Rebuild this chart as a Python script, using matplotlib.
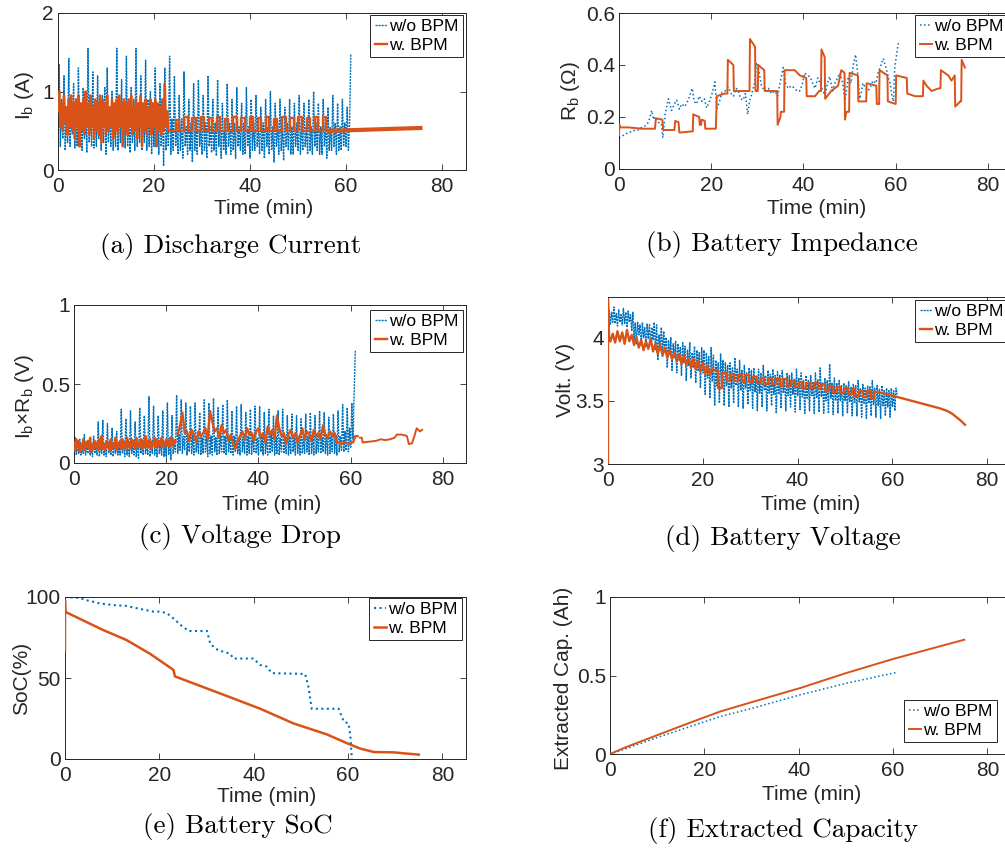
import numpy as np
import matplotlib
matplotlib.use('Agg')
import matplotlib.pyplot as plt
from matplotlib.ticker import FuncFormatter

# ---- colours (MATLAB defaults) ----
BLUE = '#0072BD'
ORANGE = '#D95319'
AXC = '#262626'


def nums(s):
    return [float(v) for v in s.split()]


# ---- (a) discharge current, w/o BPM read every 0.25 min (0..61) ----
ib_wo = nums("""
0.00 1.35 0.30 0.90 0.40 1.20 0.25 0.75  0.35 1.42 0.30 0.85 0.45 1.10 0.28 0.80
0.30 1.30 0.35 0.70 0.25 1.05 0.40 0.90  0.22 1.55 0.35 0.85 0.30 1.25 0.28 0.80
0.30 1.20 0.40 0.75 0.25 0.95 0.35 1.05  0.20 1.30 0.35 0.80 0.30 1.00 0.25 0.85
0.30 1.55 0.25 0.90 0.35 1.15 0.32 0.80  0.28 1.45 0.30 0.75 0.22 1.05 0.35 0.90
0.25 1.55 0.30 0.85 0.35 1.20 0.25 0.80  0.35 1.40 0.25 0.90 0.30 1.00 0.20 0.85
0.30 1.30 0.35 0.75 0.20 1.10 0.30 0.80  0.05 1.30 0.25 0.70 0.30 1.45 0.20 0.65
0.25 1.20 0.30 0.60 0.20 0.95 0.25 0.65  0.15 1.25 0.30 0.55 0.20 0.90 0.25 0.60
0.10 1.10 0.25 0.65 0.20 1.15 0.30 0.55  0.20 0.95 0.25 0.60 0.15 1.20 0.30 0.55
0.22 0.90 0.25 0.60 0.18 1.15 0.30 0.65  0.15 0.85 0.25 0.55 0.20 1.10 0.30 0.60
0.20 0.90 0.25 0.60 0.15 1.05 0.30 0.55  0.25 0.85 0.20 0.60 0.20 1.05 0.30 0.55
0.15 0.90 0.25 0.60 0.25 0.95 0.30 0.55  0.20 0.80 0.25 0.60 0.15 0.90 0.30 0.55
0.20 1.00 0.25 0.55 0.10 0.85 0.30 0.60  0.20 0.90 0.25 0.55 0.12 0.80 0.30 0.60
0.25 0.90 0.20 0.55 0.20 0.85 0.30 0.60  0.25 0.95 0.20 0.60 0.25 0.85 0.30 0.55
0.20 0.90 0.25 0.55 0.20 1.00 0.30 0.60  0.25 0.85 0.20 0.55 0.20 0.90 0.30 0.60
0.15 0.80 0.25 0.55 0.25 0.95 0.30 0.60  0.20 0.85 0.25 0.55 0.25 0.90 0.30 0.60
0.30 0.80 0.25 0.60 1.47
""")
# w. BPM: noisy part every 0.25 min (0..23), then switching pulses, then flat
ib_w_noisy = nums("""
0.75 1.00 0.55 0.85 0.50 0.95 0.60 0.80  0.45 0.90 0.55 0.95 0.50 0.85 0.40 0.90
0.55 0.95 0.30 0.85 0.50 0.90 0.45 1.00  0.55 0.85 0.45 0.95 0.55 0.80 0.40 0.90
0.50 0.85 0.45 0.95 0.35 0.90 0.55 0.85  0.45 0.95 0.50 0.80 0.55 0.90 0.40 0.85
0.50 0.90 0.45 0.95 0.55 0.85 0.30 0.90  0.50 0.85 0.45 0.90 0.55 0.95 0.45 0.80
0.50 0.90 0.40 0.85 0.55 0.95 0.30 0.85  0.50 0.90 0.45 0.80 0.55 0.90 0.45 0.85
0.55 0.90 0.30 0.85 0.50 0.80 0.45 0.90  0.50 1.10 0.55 0.75 0.50
""")
ib_w_sq_t = [23.0, 24.6, 25.3, 26.3, 27.0, 28.0, 28.7, 29.7, 30.4, 31.4,
             32.1, 33.1, 33.8, 34.8, 35.5, 36.5, 37.2, 38.2, 38.9, 39.9,
             40.6, 41.6, 42.3, 43.3, 44.0, 45.0, 45.7, 46.7, 47.4, 48.4,
             49.1, 50.1, 50.8, 51.8, 52.5, 53.5, 54.2, 55.2, 55.9, 56.5]
ib_w_sq_v = [0.50, 0.64, 0.50, 0.67, 0.50, 0.66, 0.50, 0.68, 0.50, 0.66,
             0.50, 0.67, 0.50, 0.65, 0.50, 0.67, 0.50, 0.66, 0.50, 0.68,
             0.50, 0.66, 0.50, 0.67, 0.50, 0.65, 0.50, 0.68, 0.50, 0.66,
             0.50, 0.67, 0.50, 0.66, 0.50, 0.68, 0.50, 0.67, 0.50, 0.50]
ib_w_tail_t = [56.5, 60.0, 65.0, 70.0, 75.5]
ib_w_tail_v = [0.50, 0.505, 0.515, 0.525, 0.535]

# ---- (b) battery impedance ----
rb_wo_t = [0.0, 1.0, 2.0, 3.0, 3.5, 4.2, 4.9, 5.6, 6.4, 7.1,
           7.5, 7.8, 8.5, 9.2, 9.5, 10.0, 10.7, 11.4, 12.0, 12.5,
           13.1, 13.6, 14.3, 15.0, 15.9, 16.3, 16.8, 17.4, 18.0, 18.5,
           19.0, 19.6, 20.1, 20.8, 21.2, 21.8, 22.3, 23.0, 23.7, 24.3,
           24.8, 25.4, 25.9, 26.4, 26.9, 27.4, 27.9, 28.3, 28.8, 29.4,
           29.8, 30.4, 30.9, 31.6, 32.4, 33.1, 33.8, 34.4, 34.9, 35.6,
           36.1, 36.7, 37.4, 38.1, 38.6, 39.2, 39.8, 40.3, 40.8, 41.4,
           42.0, 42.5, 43.1, 43.6, 44.2, 44.7, 45.2, 45.7, 46.3, 46.8,
           47.4, 47.9, 48.5, 49.0, 49.4, 49.7, 50.3, 50.8, 51.3, 51.8,
           52.2, 52.6, 52.9, 53.5, 54.0, 54.6, 55.1, 55.7, 56.2, 56.8,
           57.3, 57.7, 58.0, 58.4, 58.8, 59.2, 59.5, 59.8, 60.2, 60.5,
           61.0]
rb_wo_v = [0.12, 0.13, 0.14, 0.145, 0.15, 0.15, 0.16, 0.165, 0.18, 0.225,
           0.19, 0.20, 0.18, 0.175, 0.12, 0.21, 0.27, 0.225, 0.25, 0.265,
           0.23, 0.25, 0.24, 0.265, 0.31, 0.26, 0.25, 0.28, 0.26, 0.27,
           0.235, 0.26, 0.285, 0.335, 0.23, 0.26, 0.295, 0.30, 0.315, 0.29,
           0.28, 0.31, 0.30, 0.27, 0.265, 0.29, 0.21, 0.26, 0.29, 0.33,
           0.41, 0.37, 0.32, 0.30, 0.31, 0.29, 0.30, 0.28, 0.33, 0.39,
           0.33, 0.31, 0.32, 0.31, 0.30, 0.30, 0.33, 0.37, 0.36, 0.355,
           0.33, 0.31, 0.35, 0.33, 0.30, 0.285, 0.33, 0.355, 0.30, 0.33,
           0.35, 0.37, 0.33, 0.265, 0.31, 0.355, 0.33, 0.40, 0.44, 0.36,
           0.27, 0.30, 0.33, 0.31, 0.30, 0.32, 0.34, 0.33, 0.37, 0.40,
           0.425, 0.40, 0.385, 0.35, 0.33, 0.28, 0.26, 0.39, 0.44, 0.48,
           0.49]
rb_w_t = [0.0, 0.1, 0.3, 2.0, 5.0, 7.8, 8.0, 9.4, 9.6, 12.0,
          12.2, 12.9, 13.1, 16.0, 16.1, 17.4, 17.5, 17.8, 17.9, 18.6,
          18.7, 21.0, 21.2, 22.9, 23.5, 23.6, 24.8, 24.9, 28.3, 28.4,
          29.5, 29.6, 30.1, 30.2, 31.5, 31.6, 34.3, 34.4, 35.0, 35.1,
          35.8, 35.9, 38.1, 39.2, 40.6, 40.7, 42.5, 43.4, 43.8, 43.9,
          44.6, 44.7, 46.0, 47.5, 48.2, 48.9, 49.0, 49.3, 49.9, 50.0,
          51.8, 51.9, 53.6, 53.7, 55.8, 55.9, 56.4, 56.5, 58.2, 58.3,
          60.0, 60.1, 62.4, 62.5, 64.2, 65.9, 66.0, 66.7, 67.8, 69.3,
          69.7, 69.8, 71.4, 72.1, 72.8, 72.9, 74.0, 74.2, 74.3, 75.0]
rb_w_v = [0.13, 0.17, 0.16, 0.16, 0.155, 0.155, 0.195, 0.19, 0.15, 0.15,
          0.185, 0.18, 0.14, 0.145, 0.21, 0.20, 0.17, 0.17, 0.19, 0.185,
          0.155, 0.155, 0.28, 0.29, 0.29, 0.42, 0.40, 0.30, 0.30, 0.50,
          0.47, 0.30, 0.30, 0.40, 0.38, 0.30, 0.30, 0.17, 0.20, 0.22,
          0.22, 0.38, 0.38, 0.36, 0.35, 0.28, 0.28, 0.30, 0.30, 0.46,
          0.43, 0.27, 0.30, 0.32, 0.38, 0.37, 0.19, 0.22, 0.22, 0.37,
          0.36, 0.26, 0.26, 0.33, 0.32, 0.25, 0.25, 0.38, 0.36, 0.26,
          0.25, 0.36, 0.35, 0.29, 0.28, 0.28, 0.34, 0.32, 0.30, 0.31,
          0.31, 0.38, 0.36, 0.34, 0.36, 0.24, 0.26, 0.26, 0.42, 0.39]

# ---- (c) voltage drop, w/o BPM every 0.25 min ----
vd_wo = nums("""
0.10 0.16 0.05 0.12 0.06 0.15 0.05 0.10  0.06 0.18 0.05 0.11 0.06 0.14 0.05 0.12
0.04 0.17 0.06 0.12 0.05 0.26 0.04 0.13  0.06 0.27 0.05 0.12 0.04 0.25 0.06 0.14
0.05 0.22 0.04 0.13 0.06 0.20 0.05 0.12  0.05 0.34 0.06 0.14 0.04 0.28 0.05 0.15
0.04 0.33 0.06 0.13 0.05 0.26 0.04 0.14  0.03 0.35 0.06 0.15 0.05 0.30 0.06 0.13
0.05 0.42 0.04 0.14 0.06 0.36 0.05 0.15  0.04 0.30 0.06 0.13 0.05 0.33 0.04 0.14
0.04 0.38 0.05 0.16 0.02 0.30 0.06 0.14  0.07 0.43 0.06 0.18 0.08 0.40 0.06 0.17
0.08 0.38 0.05 0.16 0.07 0.36 0.06 0.18  0.05 0.38 0.07 0.17 0.06 0.32 0.05 0.16
0.06 0.40 0.07 0.18 0.04 0.38 0.06 0.17  0.05 0.41 0.07 0.16 0.05 0.35 0.06 0.18
0.07 0.37 0.06 0.17 0.05 0.40 0.07 0.16  0.06 0.33 0.05 0.17 0.07 0.36 0.06 0.15
0.05 0.37 0.07 0.16 0.06 0.32 0.05 0.17  0.06 0.34 0.05 0.18 0.07 0.36 0.06 0.16
0.05 0.36 0.07 0.17 0.05 0.32 0.06 0.16  0.05 0.34 0.06 0.18 0.07 0.30 0.05 0.17
0.06 0.33 0.05 0.16 0.07 0.34 0.06 0.17  0.06 0.30 0.05 0.17 0.06 0.31 0.07 0.16
0.05 0.30 0.06 0.17 0.05 0.28 0.06 0.16  0.06 0.31 0.07 0.17 0.05 0.32 0.06 0.18
0.05 0.30 0.06 0.17 0.07 0.33 0.06 0.16  0.07 0.32 0.06 0.18 0.05 0.29 0.06 0.17
0.07 0.31 0.06 0.18 0.05 0.33 0.07 0.17  0.08 0.37 0.07 0.20 0.08 0.35 0.07 0.22
0.10 0.38 0.15 0.45 0.71
""")
vd_w_early = nums("""
0.13 0.08 0.15 0.10 0.14 0.07 0.12 0.09  0.15 0.08 0.13 0.10 0.14 0.09 0.16 0.07
0.12 0.09 0.14 0.10 0.13 0.08 0.15 0.09  0.17 0.09 0.12 0.08 0.14 0.10 0.13 0.08
0.15 0.09 0.12 0.10 0.16 0.08 0.13 0.10  0.14 0.09 0.15 0.10 0.13 0.09 0.16 0.10
0.13 0.09 0.15 0.11 0.14 0.09 0.16 0.10  0.13 0.10 0.15 0.09 0.14 0.10 0.17 0.10
0.14 0.10 0.15 0.09 0.13 0.11 0.16 0.10  0.15 0.10 0.14 0.11 0.16 0.10 0.13 0.11
0.15 0.11 0.14 0.10 0.16 0.11 0.15 0.12  0.14
""")
vd_w_mid = [0.18, 0.24, 0.32, 0.19, 0.20, 0.14, 0.21, 0.18, 0.13, 0.20,
            0.17, 0.19, 0.22, 0.15, 0.33, 0.26, 0.20, 0.22, 0.16, 0.24,
            0.19, 0.21, 0.14, 0.18, 0.12, 0.09, 0.14, 0.17, 0.20, 0.15,
            0.22, 0.18, 0.19, 0.14, 0.20, 0.22, 0.16, 0.19, 0.13, 0.23,
            0.18, 0.21, 0.15, 0.30, 0.22, 0.17, 0.19, 0.12, 0.18, 0.21,
            0.16, 0.19, 0.13, 0.17, 0.22, 0.15, 0.20, 0.18, 0.14, 0.21,
            0.17, 0.19, 0.15, 0.24, 0.18, 0.16, 0.20, 0.17, 0.19, 0.13,
            0.13, 0.12, 0.13, 0.13, 0.12, 0.13, 0.13, 0.17, 0.17]
vd_w_tail_t = [62.0, 62.4, 62.6, 64.0, 65.5, 66.5, 67.5, 68.5, 69.5, 70.0,
               71.0, 71.8, 72.2, 72.6, 73.3, 73.8, 74.3, 75.0, 75.5]
vd_w_tail_v = [0.16, 0.16, 0.13, 0.135, 0.14, 0.15, 0.145, 0.15, 0.16, 0.18,
               0.18, 0.175, 0.17, 0.12, 0.125, 0.17, 0.22, 0.20, 0.21]

# ---- (d) battery voltage, w/o BPM every 0.25 min ----
v_wo = nums("""
4.15 4.22 4.10 4.20 4.12 4.24 4.11 4.19  4.09 4.22 4.12 4.18 4.10 4.23 4.11 4.20
4.08 4.21 4.12 4.18 4.05 4.20 3.98 4.12  3.95 4.12 4.02 4.10 3.94 4.12 4.00 4.08
3.93 4.11 3.99 4.10 3.95 4.08 3.98 4.12  3.90 4.10 3.82 4.02 3.92 4.08 3.85 4.05
3.88 4.00 3.76 3.98 3.86 4.00 3.74 3.95  3.84 3.97 3.72 3.95 3.82 3.92 3.70 3.96
3.80 3.93 3.66 3.90 3.78 3.96 3.68 3.88  3.76 3.93 3.64 3.90 3.74 3.88 3.60 3.92
3.72 3.90 3.55 3.88 3.68 3.85 3.52 3.92  3.65 3.86 3.46 3.82 3.62 3.80 3.48 3.87
3.64 3.82 3.46 3.80 3.62 3.78 3.45 3.80  3.60 3.76 3.48 3.84 3.62 3.75 3.45 3.82
3.58 3.74 3.44 3.78 3.60 3.72 3.47 3.76  3.58 3.74 3.44 3.76 3.57 3.70 3.42 3.75
3.56 3.72 3.45 3.78 3.58 3.70 3.42 3.74  3.56 3.71 3.46 3.75 3.55 3.70 3.40 3.73
3.55 3.70 3.44 3.74 3.56 3.68 3.42 3.72  3.54 3.70 3.45 3.72 3.55 3.67 3.41 3.75
3.54 3.68 3.43 3.72 3.53 3.66 3.40 3.70  3.52 3.66 3.42 3.70 3.54 3.65 3.40 3.72
3.52 3.67 3.41 3.76 3.53 3.64 3.40 3.68  3.50 3.66 3.40 3.79 3.52 3.64 3.39 3.68
3.50 3.64 3.40 3.66 3.50 3.62 3.38 3.64  3.50 3.62 3.40 3.65 3.49 3.61 3.38 3.63
3.48 3.62 3.38 3.66 3.49 3.60 3.37 3.63  3.48 3.60 3.36 3.62 3.48 3.61 3.38 3.66
3.47 3.60 3.37 3.62 3.46 3.59 3.36 3.62  3.46 3.58 3.38 3.60 3.45 3.58 3.37 3.60
3.45 3.58 3.42 3.60 3.55
""")
v_w_start_t = [0.0, 0.0, 0.25]
v_w_start_v = [3.0, 4.3, 3.98]
v_w_noisy = [3.97, 4.03, 3.96, 4.05, 3.97, 4.04, 3.95, 4.06, 3.97, 4.02,
             3.94, 4.00, 3.92, 3.98, 3.90, 3.97, 3.91, 3.99, 3.89, 3.95,
             3.87, 3.94, 3.86, 3.92, 3.84, 3.90, 3.83, 3.88, 3.81, 3.87,
             3.79, 3.86, 3.78, 3.84, 3.76, 3.83, 3.75, 3.82, 3.73, 3.80,
             3.71, 3.78, 3.70, 3.76]
v_w_saw_t = [22.5, 23.3, 24.0, 25.0, 25.8, 26.6, 27.4, 28.2, 29.0, 29.8,
             30.6, 31.4, 32.2, 33.0, 33.8, 34.6, 35.4, 36.2, 37.0, 37.8,
             38.6, 39.4, 40.2, 41.0, 41.8, 42.6, 43.4, 44.2, 45.0, 45.8,
             46.6, 47.4, 48.2, 49.0, 49.8, 50.6, 51.4, 52.2, 53.0, 53.8,
             54.6, 55.4, 56.2]
v_w_saw_v = [3.74, 3.60, 3.72, 3.66, 3.71, 3.66, 3.70, 3.65, 3.70, 3.65,
             3.69, 3.64, 3.68, 3.63, 3.68, 3.63, 3.67, 3.62, 3.67, 3.62,
             3.66, 3.61, 3.65, 3.60, 3.64, 3.60, 3.64, 3.59, 3.63, 3.58,
             3.62, 3.57, 3.61, 3.56, 3.60, 3.55, 3.59, 3.54, 3.58, 3.53,
             3.58, 3.52, 3.57]
v_w_tail_t = [56.2, 58.0, 60.0, 62.0, 64.0, 66.0, 68.0, 70.0, 71.5, 72.5, 73.5, 74.5, 75.3]
v_w_tail_v = [3.57, 3.56, 3.54, 3.52, 3.50, 3.48, 3.46, 3.44, 3.42, 3.40, 3.37, 3.34, 3.31]

# ---- (e) state of charge ----
soc_wo_t = [0, 3, 4.6, 7.4, 10.3, 13, 14.5, 18.7, 20.2, 21.6, 23.3, 24.4, 26.2, 30.1, 30.8, 32.5,
            33.9, 35, 35.7, 39.9, 41.4, 42.8, 43.8, 50.9, 51.6, 52.3, 58, 59.1, 60.1, 60.5, 60.8]
soc_wo_v = [100, 99.5, 98, 96, 95, 94.5, 93.5, 91, 91, 90, 86, 83, 79, 79, 71, 67,
            66, 65, 62, 62, 58, 57, 53, 52.5, 44.6, 31, 31, 23, 22, 14, 0]
soc_w_t = [0, 0, 0.05, 0.3, 8.1, 13, 18, 23, 23.3, 27.2, 34.3, 41.4, 48.4, 55.5, 59.8, 62.6,
           65.5, 69.7, 71.8, 75]
soc_w_v = [67, 98, 91.5, 90.5, 79.6, 73.5, 65, 55, 51, 46.7, 38.9, 31, 22, 15.2, 9.7, 6.4,
           4.3, 4.1, 3.5, 2.7]

# ---- (f) extracted capacity ----
cap_wo_t = [0, 3.5, 10, 17, 23.3, 30, 40.3, 50, 60.8]
cap_wo_v = [0, 0.035, 0.105, 0.175, 0.238, 0.29, 0.377, 0.45, 0.52]
cap_w_t = [0, 3.5, 10, 17, 23.3, 30, 40.3, 50, 60.1, 75.1]
cap_w_v = [0, 0.045, 0.12, 0.2, 0.27, 0.33, 0.42, 0.515, 0.606, 0.728]

LABELS = ['w/o BPM', 'w. BPM']

plt.rcParams['font.family'] = ['Liberation Sans', 'DejaVu Sans']
plt.rcParams['mathtext.fontset'] = 'custom'
plt.rcParams['mathtext.rm'] = 'Liberation Sans'
plt.rcParams['mathtext.it'] = 'Liberation Sans:italic'

W, H = 1005, 850
fig = plt.figure(figsize=(W / 100, H / 100), dpi=100)


def box(l, t, r, b):
    return [l / W, 1 - b / H, (r - l) / W, (b - t) / H]


def ftext(x, y, s, **kw):
    fig.text(x / W, 1 - y / H, s, ha='center', va='center', **kw)


def style(ax, ylim, yticks):
    ax.set_xlim(0, 85)
    ax.set_ylim(*ylim)
    ax.set_xticks([0, 20, 40, 60, 80])
    ax.set_yticks(yticks)
    ax.yaxis.set_major_formatter(FuncFormatter(lambda v, p: f'{v:g}'))
    ax.tick_params(direction='in', length=4, width=0.6, colors=AXC,
                   labelsize=15, top=True, right=True)
    ax.tick_params(axis='x', pad=5)
    ax.tick_params(axis='y', pad=3)
    for s in ax.spines.values():
        s.set_color(AXC)
        s.set_linewidth(0.7)


def legend(ax, x, y, loc='upper right'):
    leg = ax.legend(loc=loc, bbox_to_anchor=(x / W, 1 - y / H),
                    bbox_transform=fig.transFigure, fontsize=12.5,
                    handlelength=0.7, handletextpad=0.15, borderpad=0.25,
                    labelspacing=0.2, borderaxespad=0, fancybox=False,
                    framealpha=1, edgecolor=AXC)
    leg.get_frame().set_linewidth(0.7)


dense = dict(color=BLUE, ls=(0, (1.5, 0.7)), lw=1.0)
dot = dict(color=BLUE, ls=':', lw=1.1)
sol = dict(color=ORANGE, lw=1.4, zorder=3)
thick = dict(color=ORANGE, lw=1.7, zorder=3)

# (a)
ax = fig.add_axes(box(58, 13, 466, 170))
ax.plot(np.linspace(0, 61, len(ib_wo)), ib_wo, label=LABELS[0], **dense)
ax.plot(np.linspace(0, 23, len(ib_w_noisy)), ib_w_noisy, label=LABELS[1], **thick)
ax.plot(ib_w_sq_t, ib_w_sq_v, drawstyle='steps-post', **thick)
ax.plot(ib_w_tail_t, ib_w_tail_v, color=ORANGE, lw=3, zorder=3)
style(ax, (0, 2), [0, 1, 2])
legend(ax, 463, 15)

# (b)
ax = fig.add_axes(box(619, 13, 1011, 169))
ax.plot(rb_wo_t, rb_wo_v, label=LABELS[0], **dot)
ax.plot(rb_w_t, rb_w_v, label=LABELS[1], **sol)
style(ax, (0, 0.6), [0, 0.2, 0.4, 0.6])
legend(ax, 1008, 15)

# (c)
ax = fig.add_axes(box(74, 305, 466, 463))
ax.plot(np.linspace(0, 61, len(vd_wo)), vd_wo, label=LABELS[0], **dense)
ax.plot(np.linspace(0, 22, len(vd_w_early)), vd_w_early, label=LABELS[1], **thick)
ax.plot(np.linspace(22.5, 61.5, len(vd_w_mid)), vd_w_mid, **thick)
ax.plot(vd_w_tail_t, vd_w_tail_v, **sol)
style(ax, (0, 1), [0, 0.5, 1])
legend(ax, 463, 310)

# (d)
ax = fig.add_axes(box(608, 297, 1011, 464))
ax.plot(np.linspace(0, 61, len(v_wo)), v_wo, label=LABELS[0], **dense)
ax.plot(v_w_start_t, v_w_start_v, label=LABELS[1], **thick)
ax.plot(np.linspace(0.5, 22, len(v_w_noisy)), v_w_noisy, **thick)
ax.plot(v_w_saw_t, v_w_saw_v, drawstyle='steps-post', **thick)
ax.plot(v_w_tail_t, v_w_tail_v, **thick)
style(ax, (3, 4.32), [3, 3.5, 4])
legend(ax, 1008, 300)

# (e)
ax = fig.add_axes(box(65, 597, 466, 759))
ax.plot(soc_wo_t, soc_wo_v, label=LABELS[0], color=BLUE, ls=':', lw=1.5)
ax.plot(soc_w_t, soc_w_v, label=LABELS[1], color=ORANGE, lw=1.8, zorder=3)
style(ax, (0, 100), [0, 50, 100])
legend(ax, 462, 598)

# (f)
ax = fig.add_axes(box(610, 597, 1011, 754))
ax.plot(cap_wo_t, cap_wo_v, label=LABELS[0], **dot)
ax.plot(cap_w_t, cap_w_v, label=LABELS[1], **sol)
style(ax, (0, 1), [0, 0.5, 1])
legend(ax, 997, 742, loc='lower right')

# axis labels
lab = dict(fontsize=15, color=AXC)
for x, y in [(264, 209), (817, 209), (272, 505), (811, 504), (267, 797), (812, 794)]:
    ftext(x, y, 'Time (min)', **lab)
ftext(25, 96, r'I$_{\mathrm{b}}$ (A)', rotation=90, **lab)
ftext(571, 91, r'R$_{\mathrm{b}}$ (Ω)', rotation=90, **lab)
ftext(24, 396, r'I$_{\mathrm{b}}$×R$_{\mathrm{b}}$ (V)', rotation=90, **lab)
ftext(565, 380, 'Volt. (V)', rotation=90, **lab)
ftext(22, 678, 'SoC(%)', rotation=90, **lab)
ftext(563, 678, 'Extracted Cap. (Ah)', rotation=90, **lab)

# sub-captions
cap = dict(fontsize=19.5, family='cmr10', color='black')
ftext(231, 247, '(a) Discharge Current', **cap)
ftext(782, 245, '(b) Battery Impedance', **cap)
ftext(240, 537, '(c) Voltage Drop', **cap)
ftext(783, 538, '(d) Battery Voltage', **cap)
ftext(238, 826, '(e) Battery SoC', **cap)
ftext(783, 830, '(f) Extracted Capacity', **cap)

fig.savefig('out.png', dpi=100)
